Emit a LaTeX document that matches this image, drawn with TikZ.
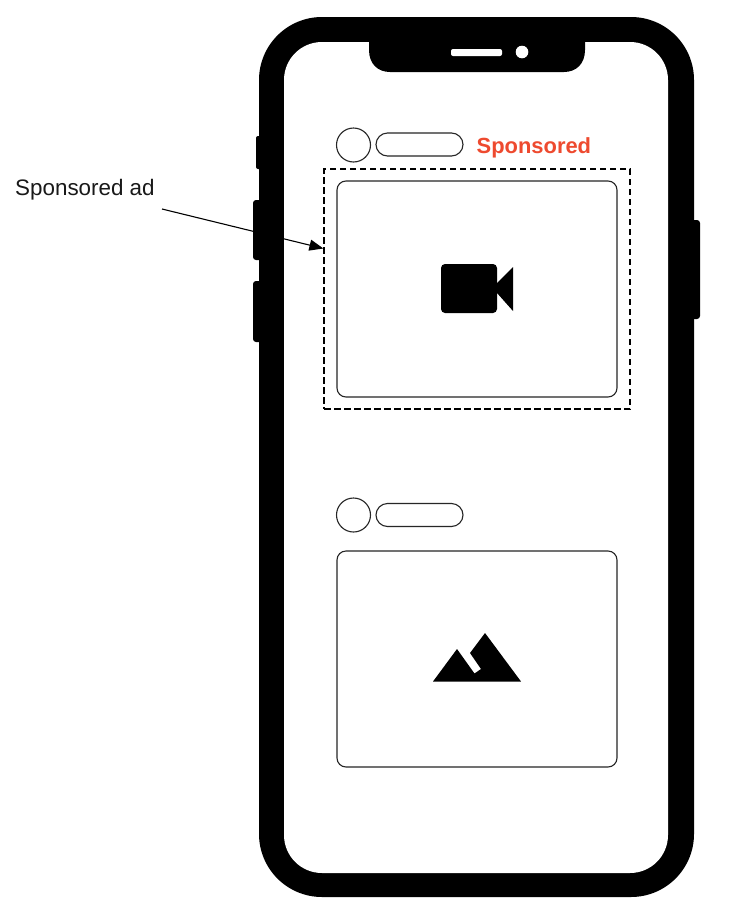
\documentclass[tikz,border=0pt]{standalone}
\usepackage{fontspec}
\setmainfont{Liberation Sans}
\usetikzlibrary{arrows.meta}
\definecolor{sponsorred}{HTML}{EE4A2F}
\tikzset{
  px/.style={x=1pt,y=-1pt},
  ink/.style={fill=black,draw=none},
  thinbox/.style={draw=black!85,line width=1.1pt,fill=white,rounded corners=9pt,inner sep=0pt,minimum width=280pt,minimum height=216pt},
  pillbox/.style={draw=black!85,line width=1.1pt,fill=white,rounded corners=11.5pt,inner sep=0pt,minimum width=87pt,minimum height=23pt},
  avatar/.style={draw=black!85,line width=1.1pt,fill=white,circle,inner sep=0pt,minimum size=34pt},
  adframe/.style={draw=black,line width=1.3pt,dash pattern=on 6.5pt off 3.5pt,inner sep=0pt,minimum width=306pt,minimum height=240pt},
  calltext/.style={font=\fontsize{22.4}{24}\selectfont,text=black!90,inner sep=0pt,anchor=base west},
  redtext/.style={font=\fontsize{21.9}{24}\selectfont\bfseries,text=sponsorred,inner sep=0pt,anchor=base west},
  callout/.style={draw=black,line width=1.1pt,-{Triangle[length=14pt,width=11pt]}}
}
\begin{document}
\begin{tikzpicture}[px]
\useasboundingbox (0,0) rectangle (734,916);
\fill[white] (0,0) rectangle (734,916);
% side buttons
\fill[ink,rounded corners=2pt] (256,136) rectangle (270,169);
\fill[ink,rounded corners=3pt] (253,200) rectangle (270,260);
\fill[ink,rounded corners=3pt] (253,281) rectangle (270,342);
\fill[ink,rounded corners=3pt] (684,220) rectangle (700,319);
% body
\fill[ink,rounded corners=63pt] (259,17) rectangle (694,897);
\fill[white,rounded corners=38pt] (284,42) rectangle (668,873);
% notch
\fill[ink] (369,38) -- (369,50) .. controls (369,64) and (378,72) .. (390,72) -- (564,72) .. controls (576,72) and (585,64) .. (585,50) -- (585,38) -- cycle;
\fill[white,rounded corners=2pt] (451,49) rectangle (502,56);
\fill[white] (522,52) circle[radius=6.3];
% first post
\node[avatar] (av1) at (353.5,145) {};
\node[pillbox] (pill1) at (419.5,144.5) {};
\node[redtext] (spons) at (476.5,153) {Sponsored};
\node[adframe] (frame) at (477,289) {};
\node[thinbox] (video) at (477,289) {};
\fill[ink,rounded corners=4pt] (441,264) rectangle (497,313);
\fill[ink] (497,283) -- (513,267) -- (513,311) -- (497,293) -- cycle;
% second post
\node[avatar] (av2) at (353.5,515) {};
\node[pillbox] (pill2) at (419.5,515) {};
\node[thinbox] (image) at (477,659) {};
\fill[ink] (433,681.5) -- (457,649) -- (474.5,673.5) -- (481,669) -- (470,653) -- (485,633) -- (521,681.5) -- cycle;
% callout
\node[calltext] (label) at (15,195) {Sponsored ad};
\coordinate (from) at (162,209);
\coordinate (to) at (323.4,248.5);
\draw[callout] (from) -- (to);
\end{tikzpicture}
\end{document}
